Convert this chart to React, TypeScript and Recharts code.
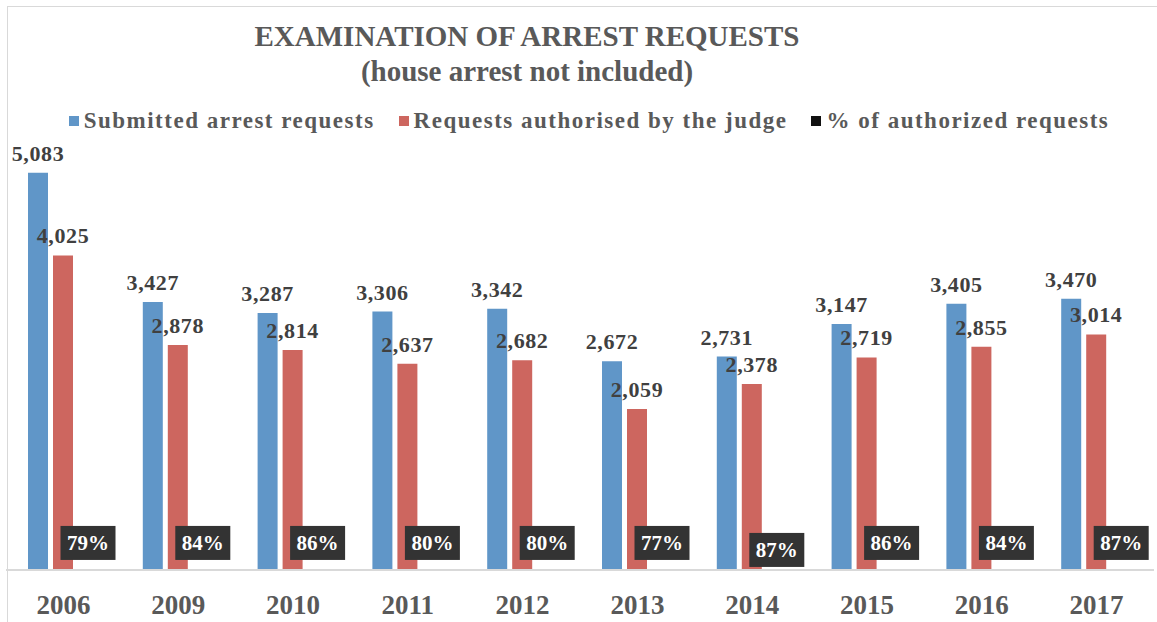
import React from 'react'
import { BarChart, Bar, XAxis, YAxis, LabelList } from 'recharts'

const years = ['2006', '2009', '2010', '2011', '2012', '2013', '2014', '2015', '2016', '2017']
const submitted = [5083, 3427, 3287, 3306, 3342, 2672, 2731, 3147, 3405, 3470]
const authorised = [4025, 2878, 2814, 2637, 2682, 2059, 2378, 2719, 2855, 3014]
const pctAuthorised = [79, 84, 86, 80, 80, 77, 87, 86, 84, 87]

const data = years.map((year, i) => ({
  year,
  submitted: submitted[i],
  authorised: authorised[i],
  pct: pctAuthorised[i] / 100,
}))

const FONT = '"Liberation Serif", serif'
const BLUE = '#6096C8'
const RED = '#CD665F'

const legendItems = [
  { label: 'Submitted arrest requests', color: BLUE },
  { label: 'Requests authorised by the judge', color: RED },
  { label: '% of authorized requests', color: '#111' },
]

function PctLabel(props: any) {
  const { x, y, width, index } = props
  const cx = x + width / 2
  // the 2014 box sits a little lower in the original
  const drop = years[index] === '2014' ? 7 : 0
  const top = y - 44 + drop
  return (
    <g>
      <rect x={cx - 27.5} y={top} width={55} height={34} fill="#333333" />
      <text
        x={cx}
        y={top + 17}
        dy="0.35em"
        textAnchor="middle"
        fill="#ffffff"
        fontSize={21}
        fontWeight="bold"
        fontFamily={FONT}
      >
        {Math.round(pctAuthorised[index])}%
      </text>
    </g>
  )
}

const fmt = (v: any) => Number(v).toLocaleString('en-US')

const valueLabelStyle = {
  fontSize: 22,
  fontWeight: 'bold',
  fill: '#404040',
  fontFamily: FONT,
  letterSpacing: 0.6,
}

export default function App() {
  return (
    <div style={{ position: 'relative', width: 1157, height: 622, background: '#fff', overflow: 'hidden' }}>
      <style>{`body{margin:0}`}</style>
      <div
        style={{
          position: 'absolute',
          left: 7,
          top: 6,
          width: 1160,
          height: 630,
          border: '1px solid #d9d9d9',
          boxSizing: 'border-box',
        }}
      />
      <div
        style={{
          position: 'absolute',
          left: 0,
          width: 1054,
          top: 19,
          textAlign: 'center',
          fontFamily: FONT,
          fontWeight: 'bold',
          fontSize: 29,
          lineHeight: '35px',
          color: '#595959',
        }}
      >
        EXAMINATION OF ARREST REQUESTS
        <br />
        (house arrest not included)
      </div>
      <div
        style={{
          position: 'absolute',
          left: 0,
          width: 1178,
          top: 108,
          display: 'flex',
          justifyContent: 'center',
          gap: 24,
          fontFamily: FONT,
        }}
      >
        {legendItems.map((it) => (
          <div key={it.label} style={{ display: 'flex', alignItems: 'center', gap: 5 }}>
            <span style={{ width: 10, height: 10, background: it.color, display: 'inline-block' }} />
            <span style={{ fontSize: 23, fontWeight: 'bold', color: '#595959', letterSpacing: 1.5 }}>{it.label}</span>
          </div>
        ))}
      </div>
      <BarChart
        width={1157}
        height={622}
        data={data}
        margin={{ top: 101, right: 3, left: 6, bottom: 0 }}
        barSize={20}
        barGap={5}
        style={{ position: 'absolute', left: 0, top: 0 }}
      >
        <YAxis hide domain={[0, 6000]} />
        <XAxis
          dataKey="year"
          height={52}
          axisLine={{ stroke: '#d9d9d9', strokeWidth: 2 }}
          tickLine={false}
          tickMargin={19}
          tick={{ fontSize: 27, fontWeight: 'bold', fill: '#595959', fontFamily: FONT }}
        />
        <Bar dataKey="submitted" fill={BLUE} isAnimationActive={false}>
          <LabelList dataKey="submitted" position="top" offset={12} formatter={fmt} style={valueLabelStyle} />
        </Bar>
        <Bar dataKey="authorised" fill={RED} isAnimationActive={false}>
          <LabelList dataKey="authorised" position="top" offset={12} formatter={fmt} style={valueLabelStyle} />
        </Bar>
        <Bar dataKey="pct" fill="#111" isAnimationActive={false}>
          <LabelList dataKey="pct" content={<PctLabel />} />
        </Bar>
      </BarChart>
    </div>
  )
}
